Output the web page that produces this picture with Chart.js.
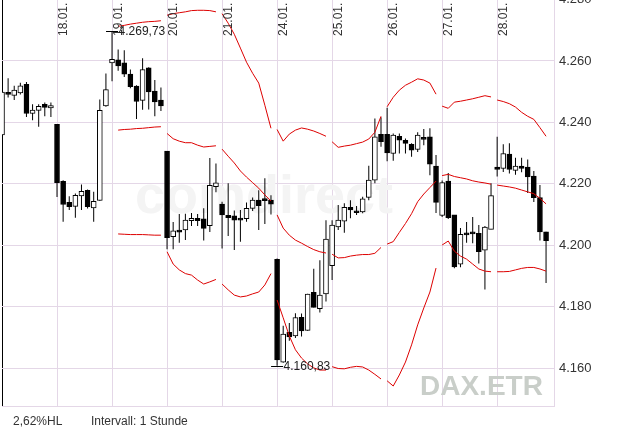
<!DOCTYPE html>
<html>
<head>
<meta charset="utf-8">
<script src="https://cdn.jsdelivr.net/npm/chart.js@4.4.0/dist/chart.umd.min.js"></script>
<style>
    html, body { margin: 0; padding: 0; background: #fff; }
    canvas { display: block; }
</style>
</head>
<body>
<canvas id="chart" width="634" height="434"></canvas>
<script>
// hourly candles, 9 per trading day
let perDay = 9;
let days = ["17.01.", "18.01.", "19.01.", "20.01.", "21.01.", "24.01.", "25.01.", "26.01.", "27.01.", "28.01."];

let opens = [
    4235.9, 4249.8, 4248.8, 4249.6, 4252.4, 4242.9, 4243.9, 4245.9, 4244.7,
    4239.4, 4220.8, 4214.0, 4212.7, 4216.1, 4217.9, 4212.2, 4214.6, 4245.4,
    4259.4, 4260.4, 4259.4, 4255.7, 4251.8, 4247.2, 4257.8, 4250.2, 4247.3,
    4230.7, 4202.8, 4205.0, 4205.0, 4208.0, 4208.8, 4208.6, 4206.4, 4219.1,
    4213.4, 4209.8, 4209.6, 4208.8, 4208.7, 4212.0, 4214.7, 4215.2, 4214.7,
    4195.4, 4162.0, 4171.7, 4170.5, 4176.6, 4172.3, 4184.7, 4179.4, 4184.2,
    4193.4, 4206.0, 4207.9, 4212.4, 4211.2, 4210.9, 4215.6, 4221.2, 4236.1,
    4236.1, 4229.9, 4235.5, 4234.2, 4232.9, 4231.2, 4234.9, 4235.3, 4225.8,
    4209.7, 4220.9, 4209.9, 4193.9, 4204.0, 4204.2, 4203.9, 4198.4, 4205.2,
    4225.5, 4225.0, 4229.7, 4224.4, 4225.8, 4225.5, 4222.5, 4215.5, 4204.4
];
let highs = [
    4250.2, 4254.4, 4251.9, 4252.9, 4253.2, 4245.9, 4245.9, 4246.5, 4246.5,
    4239.4, 4221.2, 4216.0, 4216.9, 4219.8, 4218.2, 4217.4, 4247.5, 4255.9,
    4269.73, 4263.7, 4263.5, 4257.2, 4252.1, 4260.9, 4258.0, 4253.8, 4251.4,
    4230.7, 4207.6, 4210.2, 4210.3, 4210.5, 4210.2, 4212.1, 4228.4, 4226.6,
    4214.2, 4220.2, 4211.3, 4211.5, 4213.9, 4215.6, 4217.9, 4221.8, 4216.3,
    4195.7, 4173.8, 4174.7, 4177.9, 4177.8, 4184.2, 4192.4, 4195.1, 4208.2,
    4208.2, 4213.1, 4213.7, 4214.7, 4212.8, 4215.8, 4225.9, 4241.3, 4241.7,
    4244.8, 4236.4, 4236.4, 4234.8, 4233.2, 4236.8, 4237.9, 4238.1, 4229.4,
    4221.1, 4223.5, 4209.9, 4205.6, 4207.6, 4209.2, 4206.6, 4206.3, 4220.2,
    4235.3, 4232.9, 4233.2, 4228.5, 4228.5, 4227.9, 4224.2, 4219.6, 4204.4
];
let lows = [
    4235.5, 4248.1, 4247.3, 4249.1, 4241.8, 4240.7, 4238.6, 4242.0, 4241.8,
    4215.7, 4207.7, 4211.5, 4209.0, 4211.5, 4212.0, 4207.7, 4214.5, 4245.1,
    4253.4, 4256.8, 4254.8, 4251.1, 4241.1, 4244.1, 4244.2, 4242.0, 4243.7,
    4198.7, 4198.7, 4200.8, 4201.7, 4206.3, 4206.3, 4201.6, 4204.3, 4217.3,
    4199.0, 4203.0, 4198.5, 4201.2, 4207.7, 4211.2, 4205.0, 4206.9, 4210.0,
    4160.83, 4161.8, 4168.9, 4169.8, 4170.3, 4172.2, 4179.8, 4178.1, 4181.7,
    4188.7, 4205.0, 4204.1, 4208.8, 4209.9, 4210.4, 4214.7, 4220.2, 4232.1,
    4227.4, 4227.5, 4229.9, 4229.9, 4228.8, 4230.4, 4232.6, 4222.8, 4210.5,
    4209.2, 4208.6, 4192.5, 4192.9, 4200.8, 4200.7, 4194.1, 4185.6, 4205.2,
    4222.4, 4223.9, 4223.4, 4223.0, 4223.8, 4217.0, 4214.1, 4201.6, 4187.7
];
let closes = [
    4249.9, 4249.1, 4250.5, 4251.9, 4242.9, 4244.0, 4245.2, 4244.9, 4245.5,
    4220.4, 4213.3, 4212.6, 4216.3, 4217.6, 4212.6, 4214.3, 4243.9, 4250.7,
    4260.5, 4258.4, 4255.7, 4251.6, 4246.8, 4257.2, 4249.9, 4246.7, 4245.4,
    4202.5, 4204.7, 4204.3, 4208.2, 4208.8, 4208.0, 4205.5, 4219.5, 4220.3,
    4209.9, 4209.0, 4208.2, 4208.2, 4212.0, 4214.7, 4212.9, 4214.5, 4213.4,
    4162.7, 4171.1, 4170.2, 4176.5, 4172.1, 4184.1, 4179.8, 4183.8, 4202.0,
    4206.6, 4208.2, 4212.4, 4211.5, 4210.6, 4215.1, 4221.2, 4235.3, 4233.7,
    4230.1, 4235.9, 4234.2, 4233.2, 4231.0, 4235.9, 4234.5, 4226.4, 4214.0,
    4220.4, 4209.0, 4193.0, 4203.6, 4203.4, 4203.7, 4197.9, 4205.9, 4216.2,
    4224.7, 4229.9, 4224.7, 4225.8, 4225.0, 4222.3, 4215.5, 4204.4, 4201.5
];

// bollinger bands start with candle 19
let bandStart = 19;
let upperBand = [
    4271.3, 4271.6, 4272.0, 4272.3, 4272.6, 4272.8, 4272.9, 4273.1,
    4274.9, 4275.4, 4275.7, 4276.0, 4276.4, 4276.5, 4276.5, 4276.4, 4276.0,
    4275.4, 4272.3, 4268.7, 4264.2, 4259.6, 4256.0, 4252.8, 4245.6, 4238.1,
    4237.7, 4233.9, 4236.2, 4237.5, 4238.2, 4237.8, 4237.2, 4236.4, 4235.5,
    4233.7, 4231.9, 4232.3, 4232.6, 4233.1, 4233.6, 4234.6, 4236.8, 4242.0,
    4245.1, 4248.2, 4250.5, 4252.1, 4253.1, 4254.2, 4253.8, 4252.8, 4249.2,
    4245.3, 4244.6, 4246.6, 4246.9, 4247.3, 4247.7, 4248.2, 4248.7, 4248.3,
    4247.3, 4246.8, 4246.1, 4245.0, 4243.3, 4242.0, 4241.0, 4238.3, 4235.5
];
let middleBand = [
    4237.5, 4237.7, 4237.8, 4238.0, 4238.1, 4238.3, 4238.5, 4238.6,
    4236.4, 4234.7, 4233.9, 4233.4, 4233.4, 4232.6, 4232.0, 4232.2, 4232.4,
    4231.3, 4229.0, 4226.8, 4224.2, 4222.2, 4220.4, 4218.6, 4216.4, 4214.4,
    4209.9, 4205.6, 4203.3, 4201.7, 4200.7, 4199.6, 4198.6, 4197.9, 4197.5,
    4197.1, 4195.9, 4196.0, 4196.5, 4196.8, 4197.0, 4197.0, 4197.4, 4199.3,
    4200.4, 4201.2, 4204.2, 4207.1, 4210.3, 4214.2, 4216.7, 4218.8, 4220.9,
    4222.7, 4223.1, 4222.4, 4222.0, 4221.6, 4221.0, 4220.6, 4220.3, 4219.9,
    4219.6, 4219.3, 4219.0, 4218.6, 4218.0, 4217.4, 4216.8, 4215.3, 4213.5
];
let lowerBand = [
    4203.7, 4203.6, 4203.5, 4203.5, 4203.5, 4203.4, 4203.3, 4203.3,
    4197.9, 4193.9, 4192.0, 4190.8, 4190.3, 4188.7, 4187.4, 4188.1, 4188.9,
    4187.4, 4185.5, 4183.8, 4183.2, 4183.5, 4184.2, 4184.8, 4187.1, 4190.8,
    4182.2, 4176.4, 4170.5, 4166.0, 4163.3, 4161.4, 4160.1, 4159.4, 4159.4,
    4160.5, 4159.9, 4159.8, 4160.3, 4160.6, 4160.4, 4159.4, 4158.0, 4156.5,
    4155.9, 4154.2, 4157.8, 4162.0, 4167.6, 4174.1, 4179.6, 4184.8, 4192.6,
    4200.1, 4201.4, 4198.1, 4196.5, 4195.5, 4193.9, 4192.3, 4191.6, 4191.4,
    4191.4, 4191.4, 4191.5, 4192.0, 4192.5, 4192.8, 4192.8, 4192.3, 4191.6
];

let yTicks = [4160, 4180, 4200, 4220, 4240, 4260, 4280];
let markIndex = [18, 45];
let markValue = [4269.73, 4160.83];

let gridColor = "#e4d7e7";
let bandColor = "#dd0000";
let textColor = "#333333";
let fontFamily = '"Liberation Sans", Arial, Helvetica, sans-serif';

Chart.defaults.font.family = fontFamily;

function thousands(str) {
    return str.replace(/\B(?=(\d{3})+(?!\d))/g, ".");
}

function fmtDec(v) {
    let parts = v.toFixed(2).split(".");
    return thousands(parts[0]) + "," + parts[1];
}

function bandDataset(values) {
    return {
        type: "line",
        order: 0,
        data: values.map((v, i) => ({ x: i + bandStart, y: v })),
        borderColor: bandColor,
        borderWidth: 1,
        pointRadius: 0,
        tension: 0,
        segment: {
            // no line across the night gap
            borderColor: c => ((c.p0DataIndex + bandStart) % perDay === perDay - 1 ? "rgba(0,0,0,0)" : bandColor)
        }
    };
}

let overlay = {
    id: "overlay",
    beforeDatasetsDraw(chart) {
        let ctx = chart.ctx;
        let a = chart.chartArea;
        ctx.save();
        ctx.beginPath();
        ctx.rect(a.left, a.top, a.right - a.left, a.bottom - a.top);
        ctx.clip();
        ctx.textAlign = "left";
        ctx.textBaseline = "alphabetic";
        ctx.fillStyle = "#f4f4f4";
        ctx.font = "bold 54px " + fontFamily;
        ctx.fillText("comdirect", 135, 213);
        ctx.fillStyle = "#c9cec9";
        ctx.font = "bold 28px " + fontFamily;
        ctx.fillText("DAX.ETR", 420, 395);
        ctx.restore();
    },
    afterDatasetsDraw(chart) {
        let ctx = chart.ctx;
        let xs = chart.scales.x;
        let ys = chart.scales.y;
        ctx.save();
        ctx.fillStyle = textColor;

        ctx.font = "12px " + fontFamily;
        days.forEach((d, k) => {
            if (k === 0) return;
            let px = xs.getPixelForValue(k * perDay);
            ctx.save();
            ctx.translate(px + 0.5, 36);
            ctx.rotate(-Math.PI / 2);
            ctx.textAlign = "left";
            ctx.textBaseline = "top";
            ctx.fillText(d, 0, 0);
            ctx.restore();
        });

        markIndex.forEach((idx, k) => {
            let px = xs.getPixelForValue(idx);
            let py = Math.round(ys.getPixelForValue(markValue[k])) + 0.5;
            ctx.strokeStyle = "#000";
            ctx.lineWidth = 1;
            ctx.beginPath();
            ctx.moveTo(px - 6, py);
            ctx.lineTo(px + 6, py);
            ctx.stroke();
            ctx.textAlign = "left";
            ctx.textBaseline = "middle";
            ctx.fillStyle = "#222";
            ctx.fillText(fmtDec(markValue[k]), px + 6.5, py);
        });

        ctx.fillStyle = textColor;
        ctx.textAlign = "left";
        ctx.textBaseline = "middle";
        ctx.fillText("2,62%HL", 13, 422);
        ctx.fillText("Intervall: 1 Stunde", 91, 422);
        ctx.restore();
    }
};

let bodies = {
    type: "bar",
    order: 1,
    grouped: false,
    data: opens.map((o, i) => ({ x: i, y: [o, closes[i]] })),
    backgroundColor: opens.map((o, i) => (closes[i] >= o ? "#ffffff" : "#000000")),
    borderColor: "#000000",
    borderWidth: 1,
    borderSkipped: false,
    barThickness: 5,
    minBarLength: 2
};

let wicks = {
    type: "bar",
    order: 2,
    grouped: false,
    data: highs.map((h, i) => ({ x: i, y: [lows[i], h] })),
    backgroundColor: "#000000",
    borderWidth: 0,
    barThickness: 1,
    inflateAmount: 0
};

new Chart(document.getElementById("chart"), {
    type: "bar",
    data: {
        datasets: [
            bandDataset(upperBand),
            bandDataset(middleBand),
            bandDataset(lowerBand),
            bodies,
            wicks
        ]
    },
    options: {
        responsive: false,
        animation: false,
        layout: { padding: { left: 2, top: 0, right: 0, bottom: 0 } },
        plugins: {
            legend: { display: false },
            tooltip: { enabled: false }
        },
        scales: {
            x: {
                type: "linear",
                min: 0,
                max: 90.3,
                offset: false,
                afterBuildTicks: s => { s.ticks = days.map((d, k) => ({ value: k * perDay })); },
                afterFit: s => {
                    s.height = 28;
                    s.paddingLeft = 0;
                    s.paddingRight = 0;
                },
                ticks: { display: false },
                grid: {
                    offset: false,
                    drawTicks: false,
                    color: c => (c.tick && c.tick.value === 0 ? "#000000" : gridColor)
                },
                border: { color: gridColor }
            },
            y: {
                position: "right",
                min: 4147.7,
                max: 4279.85,
                afterBuildTicks: s => { s.ticks = yTicks.map(v => ({ value: v })); },
                afterFit: s => {
                    s.width = 80;
                    s.paddingTop = 0;
                    s.paddingBottom = 0;
                },
                ticks: {
                    autoSkip: false,
                    padding: 5,
                    color: textColor,
                    font: { size: 13 },
                    callback: v => thousands(String(v))
                },
                grid: { color: gridColor, drawTicks: false },
                border: { color: gridColor }
            }
        }
    },
    plugins: [overlay]
});
</script>
</body>
</html>
